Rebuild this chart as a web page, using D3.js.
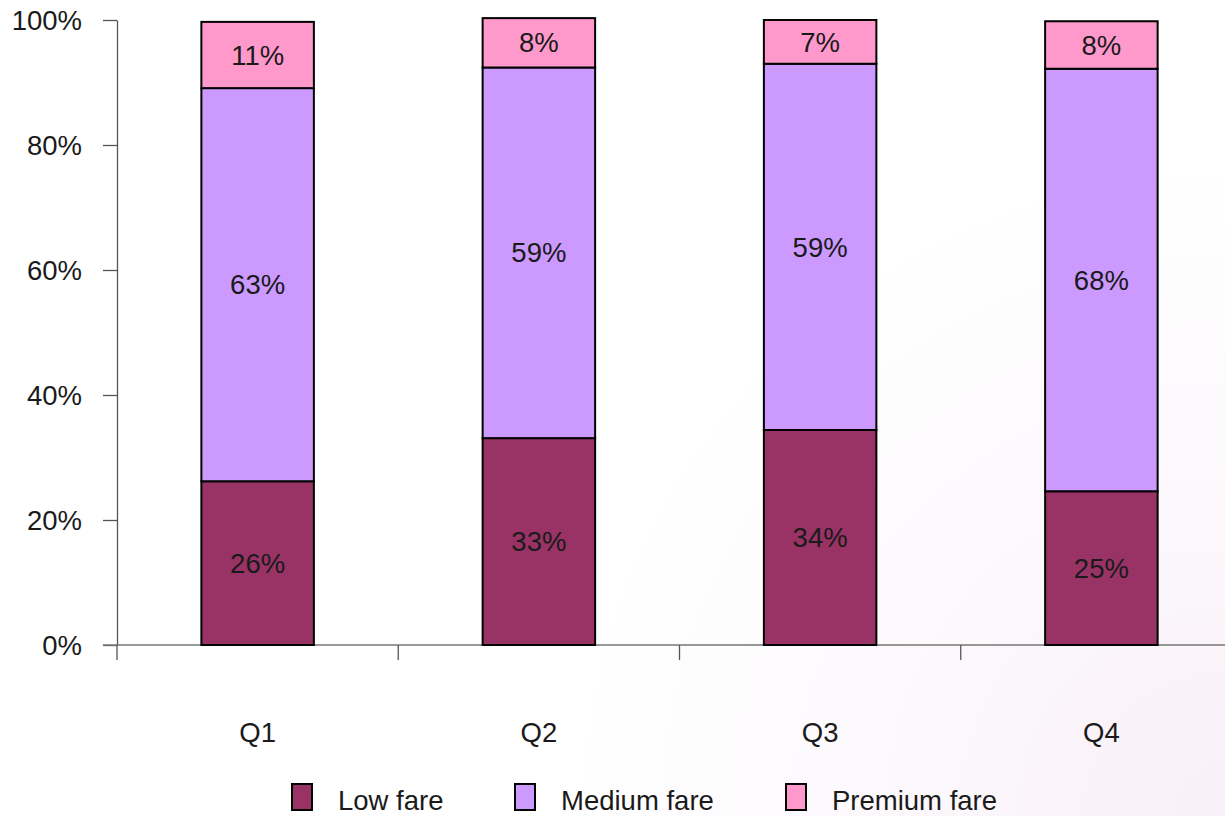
<!DOCTYPE html>
<html>
<head>
<meta charset="utf-8">
<script src="https://cdn.jsdelivr.net/npm/d3@7"></script>
<style>
html,body{margin:0;padding:0;background:#fff;}
svg{display:block;}
text{font-family:"Liberation Sans",Arial,sans-serif;fill:#1a1a1a;}
</style>
</head>
<body>
<svg id="chart" width="1225" height="816"></svg>
<script>
const categories = ["Q1", "Q2", "Q3", "Q4"];
const seriesNames = ["Low fare", "Medium fare", "Premium fare"];
const lowFare = [26.2, 33.1, 34.4, 24.6];
const mediumFare = [62.9, 59.3, 58.6, 67.6];
const premiumFare = [10.6, 7.9, 7.0, 7.6];
const yTicks = [0, 20, 40, 60, 80, 100];
const colors = ["#993366", "#CC99FF", "#FF99CC"];

const svg = d3.select("#chart");
const W = 1225, H = 816;
const FS = 27.5;

const defs = svg.append("defs");
const rg = defs.append("radialGradient").attr("id", "bg")
  .attr("gradientUnits", "userSpaceOnUse")
  .attr("cx", 1225).attr("cy", 816).attr("r", 650);
rg.append("stop").attr("offset", "0").attr("stop-color", "#f8f0f7");
rg.append("stop").attr("offset", "0.6").attr("stop-color", "#fdfafd");
rg.append("stop").attr("offset", "1").attr("stop-color", "#ffffff");
svg.append("rect").attr("width", W).attr("height", H).attr("fill", "url(#bg)");

const rows = categories.map((c, i) => ({cat: c, low: lowFare[i], medium: mediumFare[i], premium: premiumFare[i]}));
const keys = ["low", "medium", "premium"];
const stacked = d3.stack().keys(keys)(rows);

const x = d3.scaleBand().domain(categories).range([117, 1242]).paddingInner(0.6).paddingOuter(0.3);
const y = d3.scaleLinear().domain([0, 100]).range([645, 20]);

// Y axis
const yAxis = svg.append("g").attr("transform", "translate(117,0)")
  .call(d3.axisLeft(y).tickValues(yTicks).tickFormat(d => d + "%").tickSize(14).tickSizeOuter(0).tickPadding(21));
yAxis.select(".domain").attr("stroke", "#555").attr("stroke-width", 1.3);
yAxis.selectAll(".tick line").attr("stroke", "#555").attr("stroke-width", 1.3);
yAxis.selectAll(".tick text").attr("font-size", FS).attr("fill", "#1a1a1a").attr("dy", "0.35em")
  .style("font-family", "'Liberation Sans', Arial, sans-serif");

// X axis line
svg.append("line").attr("x1", 103).attr("x2", W).attr("y1", y(0)).attr("y2", y(0))
  .attr("stroke", "#777").attr("stroke-width", 1.3);
// X tick marks at category boundaries
const boundaries = categories.map((c, i) => x.range()[0] + i * x.step());
svg.selectAll(".xtick").data(boundaries).enter().append("line")
  .attr("x1", d => d).attr("x2", d => d).attr("y1", y(0)).attr("y2", y(0) + 15)
  .attr("stroke", "#555").attr("stroke-width", 1.3);

// X labels
svg.selectAll(".xlabel").data(categories).enter().append("text")
  .attr("x", d => x(d) + x.bandwidth() / 2).attr("y", 742)
  .attr("text-anchor", "middle").attr("font-size", FS).text(d => d);

// Bars
const fmt = d => Math.round(d) + "%";
stacked.forEach((s, si) => {
  const g = svg.append("g");
  g.selectAll("rect").data(s).enter().append("rect")
    .attr("x", d => x(d.data.cat)).attr("width", x.bandwidth())
    .attr("y", d => y(d[1])).attr("height", d => y(d[0]) - y(d[1]))
    .attr("fill", colors[si]).attr("stroke", "#000").attr("stroke-width", 2);
  g.selectAll("text").data(s).enter().append("text")
    .attr("x", d => x(d.data.cat) + x.bandwidth() / 2)
    .attr("y", d => (y(d[0]) + y(d[1])) / 2)
    .attr("dy", "0.35em").attr("text-anchor", "middle").attr("font-size", FS)
    .text(d => fmt(d[1] - d[0]));
});

// Legend
const legendX = [292, 515, 786];
const lg = svg.selectAll(".leg").data(seriesNames).enter().append("g")
  .attr("transform", (d, i) => `translate(${legendX[i]},784)`);
lg.append("rect").attr("width", 20).attr("height", 26)
  .attr("fill", (d, i) => colors[i]).attr("stroke", "#000").attr("stroke-width", 2);
lg.append("text").attr("x", 46).attr("y", 26).attr("font-size", FS).text(d => d);
</script>
</body>
</html>
